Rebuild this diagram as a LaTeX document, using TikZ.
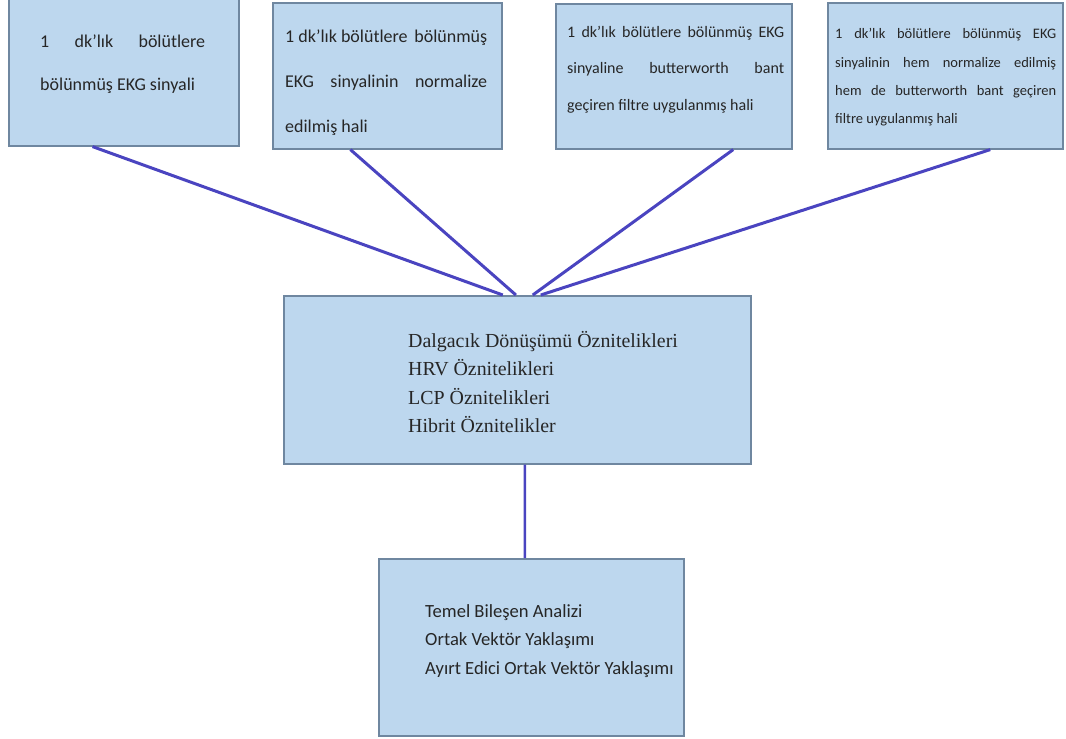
\documentclass[tikz,border=0pt]{standalone}
\usepackage{fontspec}
\usetikzlibrary{calc}
\setmainfont{Liberation Serif}
\newfontfamily\carlfont{Carlito}
\definecolor{boxfill}{HTML}{BDD7EE}
\definecolor{boxline}{HTML}{6F87A0}
\definecolor{conn}{HTML}{4A44C0}
\begin{document}
\begin{tikzpicture}[x=1pt,y=-1pt,
  box/.style={draw=boxline, line width=1.6pt, fill=boxfill, inner sep=0pt, anchor=north west},
  txt/.style={inner sep=0pt, anchor=north west, align=left, text=black!85},
  link/.style={draw=conn, line width=3pt}]
\useasboundingbox (0,0) rectangle (1066,739);
% boxes
\node[box, minimum width=230pt, minimum height=147pt] (b1) at (8,-2) {};
\node[box, minimum width=229pt, minimum height=146pt] (b2) at (272,2) {};
\node[box, minimum width=236pt, minimum height=145pt] (b3) at (555,3) {};
\node[box, minimum width=235pt, minimum height=146pt] (b4) at (827,2) {};
\node[box, minimum width=467pt, minimum height=168pt] (m) at (283,295) {};
\node[box, minimum width=305pt, minimum height=177pt] (f) at (378,558) {};
% texts
\node[txt, font=\carlfont\fontsize{18}{43}\selectfont] (t1) at (40,35)
  {\hbox to 165pt{1\hfill dk’lık\hfill bölütlere}\\bölünmüş EKG sinyali};
\node[txt, font=\carlfont\fontsize{18}{45}\selectfont] (t2) at (285,30)
  {\hbox to 202pt{1 dk’lık bölütlere\hfill bölünmüş}\\
   \hbox to 202pt{EKG\hfill sinyalinin\hfill normalize}\\edilmiş hali};
\node[txt, font=\carlfont\fontsize{16}{36.5}\selectfont] (t3) at (567,26)
  {\hbox to 217pt{1 dk’lık bölütlere bölünmüş EKG}\\
   \hbox to 217pt{sinyaline\hfill butterworth\hfill bant}\\geçiren filtre uygulanmış hali};
\node[txt, font=\carlfont\fontsize{14.5}{28.3}\selectfont] (t4) at (835,28.5)
  {\hbox to 221pt{1\hfill dk’lık\hfill bölütlere\hfill bölünmüş\hfill EKG}\\
   \hbox to 221pt{sinyalinin\hfill hem\hfill normalize\hfill edilmiş}\\
   \hbox to 221pt{hem\hfill de\hfill butterworth\hfill bant\hfill geçiren}\\filtre uygulanmış hali};
\node[txt, font=\fontsize{19.9}{28.5}\selectfont] (tm) at (408,331)
  {Dalgacık Dönüşümü Öznitelikleri\\HRV Öznitelikleri\\LCP Öznitelikleri\\Hibrit Öznitelikler};
\node[txt, font=\carlfont\fontsize{18.6}{28.5}\selectfont] (tf) at (425,604)
  {Temel Bileşen Analizi\\Ortak Vektör Yaklaşımı\\Ayırt Edici Ortak Vektör Yaklaşımı};
% connectors
\draw[link] ($(b1.south west)!0.365!(b1.south east)$) -- ($(m.north west)!0.469!(m.north east)$);
\draw[link] ($(b2.south west)!0.34!(b2.south east)$) -- ($(m.north west)!0.497!(m.north east)$);
\draw[link] ($(b3.south west)!0.75!(b3.south east)$) -- ($(m.north west)!0.533!(m.north east)$);
\draw[link] ($(b4.south west)!0.69!(b4.south east)$) -- ($(m.north west)!0.55!(m.north east)$);
\draw[link, line width=2.6pt] ($(m.south west)!0.516!(m.south east)$) -- ($(f.north west)!0.479!(f.north east)$);
\end{tikzpicture}
\end{document}
